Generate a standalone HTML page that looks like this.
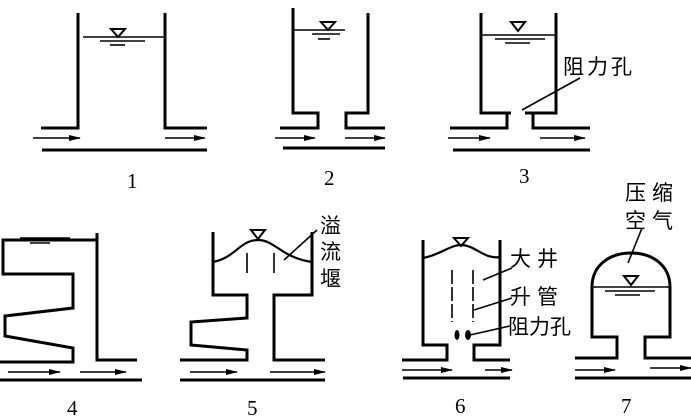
<!DOCTYPE html>
<html><head><meta charset="utf-8"><style>
html,body{margin:0;padding:0;background:#fff;}
svg{display:block;}
text{font-family:"Liberation Serif","Noto Serif CJK SC",serif;fill:#000;}
.c{font-family:"Liberation Sans","Noto Sans CJK SC",sans-serif;font-size:21px;}
</style></head><body>
<svg width="691" height="420" viewBox="0 0 691 420" xmlns="http://www.w3.org/2000/svg">
<defs><marker id="a" markerWidth="12" markerHeight="6" refX="11" refY="3" orient="auto" markerUnits="userSpaceOnUse"><path d="M0,0 L12,3 L0,6 Z" fill="#000"/></marker></defs>
<g fill="none" stroke="#000" stroke-width="3" stroke-linejoin="miter">
<polyline points="41,128 78,128 78,13"/><polyline points="165,13 165,128 207,128"/>
<line x1="42" y1="150" x2="207" y2="150"/>
<polyline points="280,128 318,128 318,113 293,113 293,8"/>
<polyline points="368,13 368,113 346,113 346,128 385,128"/>
<line x1="283" y1="148" x2="385" y2="148"/>
<polyline points="450,128 507,128 507,113 481,113 481,13"/>
<line x1="507" y1="113" x2="511" y2="113"/>
<polyline points="556,13 556,113 525,113"/>
<polyline points="533,113 533,128 590,128"/>
<line x1="453" y1="150" x2="590" y2="150"/>
<polyline points="0,362 73,362 73,348 5,336 5,316 73,308 73,274 3,274 3,240 97,240"/>
<polyline points="97,233 97,360 137,360"/>
<line x1="0" y1="380" x2="142" y2="380"/>
<polyline points="213,232 213,295 247,295 247,318 191,322 191,345 247,350 247,360 180,360"/>
<polyline points="312,232 312,295 274,295 274,360 325,360"/>
<line x1="180" y1="380" x2="325" y2="380"/>
<path d="M213,262 C235,258 240,240 258,240 C275,240 282,258 312,262" stroke-width="2.2"/>
<polyline points="423,240 423,345 447,345 447,360 402,360"/>
<polyline points="500,240 500,345 474,345 474,360 510,360"/>
<line x1="403" y1="378" x2="510" y2="378"/>
<path d="M423,258 C440,255 450,245 461,245 C475,245 485,260 500,257" stroke-width="2.2"/>
<path d="M592,333 L592,287 C592,265 610,253 631,253 C652,253 670,265 670,287 L670,333"/>
<polyline points="592,333 592,337 617,337 617,358 575,358"/>
<polyline points="670,333 670,337 645,337 645,358 691,358"/>
<line x1="575" y1="378" x2="691" y2="378"/>
</g>
<g stroke="#000" stroke-width="1.6" fill="none">
<line x1="83" y1="37" x2="165" y2="37"/><line x1="100" y1="41" x2="145" y2="41"/><line x1="110" y1="45" x2="125" y2="45"/>
<line x1="293" y1="30" x2="345" y2="30"/><line x1="312" y1="34" x2="340" y2="34"/><line x1="318" y1="39" x2="330" y2="39"/>
<line x1="481" y1="35" x2="556" y2="35"/><line x1="495" y1="39" x2="545" y2="39"/><line x1="505" y1="43" x2="530" y2="43"/>
<line x1="20" y1="238" x2="70" y2="238"/><line x1="30" y1="243" x2="50" y2="243"/>
<line x1="592" y1="287" x2="670" y2="287"/><line x1="605" y1="291" x2="655" y2="291"/><line x1="615" y1="295" x2="640" y2="295"/>
<path d="M111,29 L125,29 L118,37 Z" stroke-width="2"/><path d="M321,22 L335,22 L328,30 Z" stroke-width="2"/><path d="M511,22 L525,22 L518,31 Z" stroke-width="2"/>
<path d="M251,230 L265,230 L258,239 Z" stroke-width="2"/><path d="M454,238 L468,238 L461,246 Z" stroke-width="2"/><path d="M624,276 L638,276 L631,285 Z" stroke-width="2"/>
<line x1="247" y1="253" x2="247" y2="273"/><line x1="274" y1="253" x2="274" y2="273"/>
<line x1="452" y1="270" x2="452" y2="322" stroke-dasharray="14,3"/><line x1="473" y1="270" x2="473" y2="322" stroke-dasharray="14,3"/>
<line x1="522" y1="110" x2="580" y2="78"/><line x1="284" y1="260" x2="317" y2="230"/>
<line x1="483" y1="280" x2="512" y2="268"/><line x1="474" y1="310" x2="512" y2="298"/><line x1="470" y1="335" x2="510" y2="326"/>
<line x1="628" y1="263" x2="642" y2="228"/>
</g>
<g fill="#000"><ellipse cx="457" cy="335" rx="2.5" ry="5"/><ellipse cx="468" cy="335" rx="3" ry="5"/></g>
<g stroke="#000" stroke-width="1.6" marker-end="url(#a)">
<line x1="33" y1="138" x2="80" y2="138"/><line x1="165" y1="138" x2="205" y2="138"/>
<line x1="275" y1="138" x2="315" y2="138"/><line x1="345" y1="138" x2="385" y2="138"/>
<line x1="448" y1="138" x2="490" y2="138"/><line x1="540" y1="138" x2="585" y2="138"/>
<line x1="8" y1="372" x2="60" y2="372"/><line x1="80" y1="372" x2="126" y2="372"/>
<line x1="190" y1="372" x2="237" y2="372"/><line x1="270" y1="372" x2="325" y2="372"/>
<line x1="402" y1="370" x2="452" y2="370"/><line x1="485" y1="370" x2="512" y2="370"/>
<line x1="575" y1="370" x2="615" y2="370"/><line x1="650" y1="368" x2="691" y2="368"/>
</g>
<g font-size="21">
<text x="127" y="188">1</text><text x="324" y="185">2</text><text x="519" y="183">3</text>
<text x="67" y="415">4</text><text x="247" y="415">5</text><text x="455" y="413">6</text><text x="621" y="413">7</text>
</g>
<g>
<text x="563" y="74" class="c" letter-spacing="3">阻力孔</text>
<text x="320" y="233" class="c">溢</text><text x="320" y="259" class="c">流</text><text x="320" y="286" class="c">堰</text>
<text x="510" y="266" class="c" letter-spacing="6">大井</text>
<text x="510" y="304" class="c" letter-spacing="6">升管</text>
<text x="508" y="334" class="c">阻力孔</text>
<text x="625" y="200" class="c" letter-spacing="6">压缩</text>
<text x="625" y="228" class="c" letter-spacing="6">空气</text>
</g>
</svg>
</body></html>
